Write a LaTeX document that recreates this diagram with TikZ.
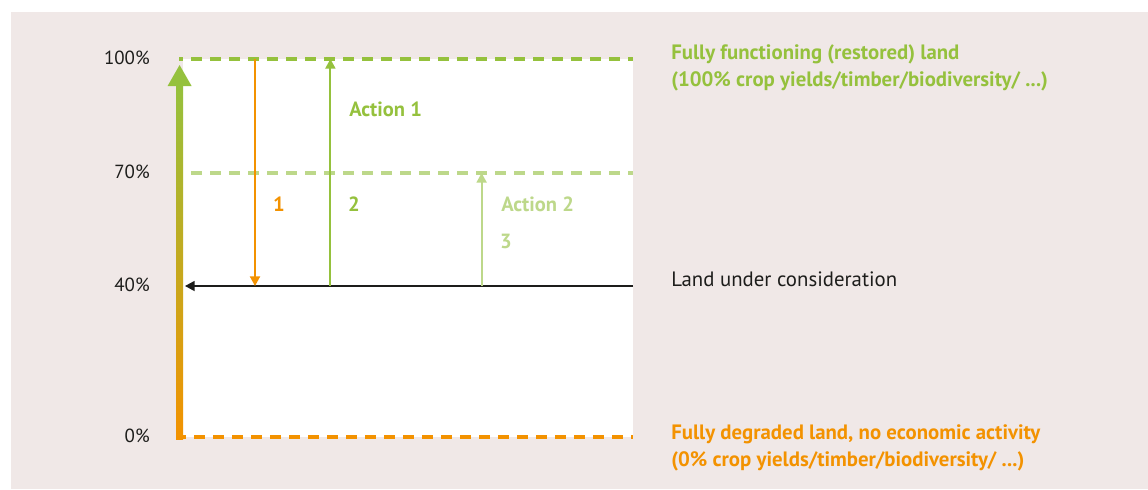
\documentclass[tikz,border=0pt]{standalone}
\usepackage{fontspec}
\setmainfont{PT Sans}
\usetikzlibrary{arrows.meta}
\definecolor{bgrose}{HTML}{F0E8E7}
\definecolor{fullgreen}{HTML}{95C13D}
\definecolor{halfgreen}{HTML}{BDD88A}
\definecolor{degorange}{HTML}{F39200}
\definecolor{inkgrey}{HTML}{1D1D1B}
\tikzset{
	level/.style={line width=0.1cm, dash pattern=on 0.275cm off 0.2cm},
	change/.style={line width=1.3pt, -{Triangle[width=0.25cm,length=0.24cm]}},
	pct/.style={anchor=east, inner sep=0, text=inkgrey, font=\fontsize{13.5}{16}\selectfont},
	tag/.style={anchor=west, inner sep=0, align=left, font=\bfseries\fontsize{14.8}{19.2}\selectfont},
	num/.style={inner sep=0, font=\bfseries\fontsize{14.6}{16}\selectfont}
}
\begin{document}
\begin{tikzpicture}
		\useasboundingbox (0,0) rectangle (28.7,12.225);
		\fill[bgrose] (0.275,0) rectangle (28.7,11.925);
		\fill[white] (4.575,1.3) rectangle (15.825,10.75);
		% levels
		\coordinate (lo) at (4.475,1.3);
		\coordinate (mid) at (4.475,7.9);
		\coordinate (hi) at (4.475,10.75);
		\coordinate (loend) at (15.825,1.3);
		\coordinate (midend) at (15.825,7.9);
		\coordinate (hiend) at (15.825,10.75);
		\draw[level, degorange, dash phase=0.1cm] (lo) -- (loend);
		\draw[level, halfgreen, dash phase=0.175cm] (mid) -- (midend);
		\draw[level, fullgreen, dash phase=0.175cm] (hi) -- (hiend);
		% scale arrow
		\shade[bottom color=degorange, top color=fullgreen] (4.4,1.25) rectangle (4.58,10.1);
		\fill[fullgreen] (4.19,10.075) -- (4.49,10.6) -- (4.79,10.075) -- cycle;
		\draw (3.75,10.775) node[pct] (p100) {100\%};
		\draw (3.75,7.925) node[pct] (p70) {70\%};
		\draw (3.75,5.1) node[pct] (p40) {40\%};
		\draw (3.75,1.325) node[pct] (p0) {0\%};
		% land under consideration
		\coordinate (landend) at (15.825,5.075);
		\coordinate (landtip) at (4.625,5.075);
		\draw[change, line width=1pt, inkgrey] (landend) -- (landtip);
		\coordinate (fall) at (6.375,10.75);
		\coordinate (fallend) at (6.375,5.075);
		\coordinate (rise) at (8.26,5.075);
		\coordinate (riseend) at (8.26,10.75);
		\coordinate (part) at (12.04,5.075);
		\coordinate (partend) at (12.04,7.9);
		\draw[change, degorange] (fall) -- (fallend);
		\draw[change, fullgreen] (rise) -- (riseend);
		\draw[change, halfgreen] (part) -- (partend);
		\draw (8.725,9.5) node[num, anchor=west, text=fullgreen] (act1) {Action 1};
		\draw (6.975,7.125) node[num, text=degorange] (n1) {1};
		\draw (8.85,7.125) node[num, text=fullgreen] (n2) {2};
		\draw (12.525,7.125) node[num, anchor=west, text=halfgreen] (act2) {Action 2};
		\draw (12.65,6.2) node[num, text=halfgreen] (n3) {3};
		% right hand texts
		\draw (16.775,10.54) node[tag, text=fullgreen] (restored) {Fully functioning (restored) land\\(100\% crop yields/timber/biodiversity/ ...)};
		\draw (16.775,5.25) node[tag, text=inkgrey, font=\fontsize{14.8}{16}\selectfont] (land) {Land under consideration};
		\draw (16.775,1.04) node[tag, text=degorange] (degraded) {Fully degraded land, no economic activity\\(0\% crop yields/timber/biodiversity/ ...)};
\end{tikzpicture}
\end{document}
